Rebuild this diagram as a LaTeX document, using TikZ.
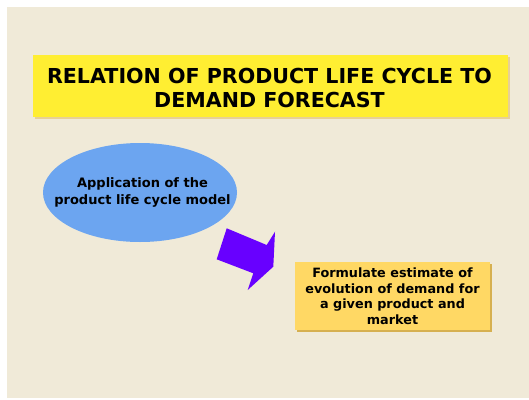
\documentclass[tikz,border=0pt]{standalone}
\usepackage{fontspec}
\setmainfont{DejaVu Sans}
\usetikzlibrary{shapes.geometric}

\definecolor{paper}{RGB}{240,234,216}
\definecolor{titleyellow}{RGB}{255,238,50}
\definecolor{boxgold}{RGB}{255,216,100}
\definecolor{boxshade}{RGB}{214,176,80}
\definecolor{ovalblue}{RGB}{108,165,240}
\definecolor{arrowviolet}{RGB}{104,0,255}

\begin{document}
\begin{tikzpicture}[x=1pt,y=-1pt]
\tikzset{label text/.style={font=\bfseries,align=center,text=black}}

\useasboundingbox (0,0) rectangle (529,399);
\fill[paper] (7,7) rectangle (529,398);

\fill[boxshade!60] (35,57) rectangle (510,119);
\fill[titleyellow] (33,55) rectangle (508,117);
\node[label text,font=\fontsize{20.6}{24}\selectfont\bfseries] (title) at (269.5,87.5)
  {RELATION OF PRODUCT LIFE CYCLE TO\\DEMAND FORECAST};

\node[ellipse,fill=ovalblue,minimum width=194pt,minimum height=99pt,inner sep=0pt] (model) at (140,192.5) {};
\node[label text,font=\fontsize{13}{16.5}\selectfont\bfseries] at (142.5,192.5) {Application of the\\product life cycle model};

\fill[arrowviolet] (226.7,228.3) -- (266.7,245) -- (275,231.7) -- (273.3,266.7)
  -- (247.7,290) -- (253.3,273.3) -- (216.7,259.3) -- cycle;

\fill[boxshade] (297,264) rectangle (492,332);
\fill[boxgold] (295,262) rectangle (490,330);
\node[label text,font=\fontsize{12.8}{15.5}\selectfont\bfseries] (estimate) at (392.5,296)
  {Formulate estimate of\\evolution of demand for\\a given product and\\market};

\end{tikzpicture}
\end{document}
